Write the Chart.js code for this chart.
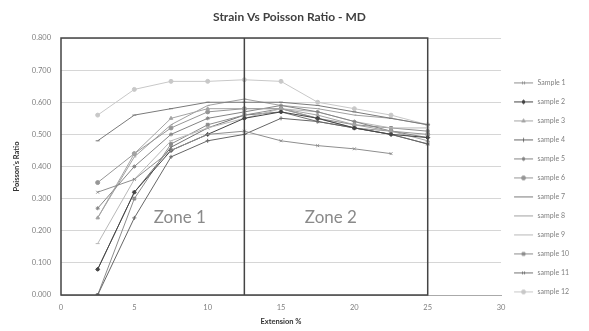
<!DOCTYPE html>
<html>
<head>
<meta charset="utf-8">
<script src="https://cdn.jsdelivr.net/npm/chart.js@4.4.1/dist/chart.umd.min.js"></script>
<style>
  html, body { margin: 0; padding: 0; background: #fff; }
</style>
</head>
<body>
<canvas id="chart" width="589" height="331"></canvas>
<script>
const extension = [2.5, 5, 7.5, 10, 12.5, 15, 17.5, 20, 22.5, 25];
const sampleNames = ["Sample 1", "sample 2", "sample 3", "sample 4", "sample 5", "sample 6",
  "sample 7", "sample 8", "sample 9", "sample 10", "sample 11", "sample 12"];
const sample1 = [0.32, 0.36, 0.45, 0.50, 0.51, 0.48, 0.465, 0.455, 0.44, null];
const sample2 = [0.08, 0.32, 0.45, 0.50, 0.55, 0.57, 0.55, 0.52, 0.50, 0.49];
const sample3 = [0.24, 0.44, 0.55, 0.58, 0.58, 0.58, 0.56, 0.53, 0.51, 0.48];
const sample4 = [0.00, 0.24, 0.43, 0.48, 0.50, 0.55, 0.54, 0.52, 0.50, 0.47];
const sample5 = [0.27, 0.40, 0.50, 0.55, 0.57, 0.59, 0.57, 0.54, 0.51, 0.49];
const sample6 = [0.35, 0.44, 0.52, 0.57, 0.58, 0.58, 0.55, 0.52, 0.51, 0.50];
const sample7 = [0.48, 0.56, 0.58, 0.60, 0.60, 0.60, 0.59, 0.57, 0.55, 0.53];
const sample8 = [0.24, 0.43, 0.53, 0.59, 0.61, 0.59, 0.58, 0.56, 0.55, 0.53];
const sample9 = [0.16, 0.36, 0.48, 0.52, 0.55, 0.58, 0.57, 0.54, 0.52, 0.52];
const sample10 = [0.00, 0.30, 0.47, 0.53, 0.56, 0.58, 0.55, 0.53, 0.52, 0.51];
const sample11 = [0.08, 0.32, 0.46, 0.52, 0.56, 0.57, 0.54, 0.52, 0.50, 0.47];
const sample12 = [0.56, 0.64, 0.665, 0.665, 0.67, 0.665, 0.60, 0.58, 0.56, 0.53];
const samples = [sample1, sample2, sample3, sample4, sample5, sample6,
  sample7, sample8, sample9, sample10, sample11, sample12];
const zoneNames = ["Zone 1", "Zone 2"];

const fontFamily = "Lato, 'Open Sans', sans-serif";
const colors = ["#8e8e8e", "#444444", "#a4a4a4", "#666666", "#848484", "#969696",
  "#7a7a7a", "#a0a0a0", "#b8b8b8", "#8c8c8c", "#727272", "#c8c8c8"];
const markers = ["crossRot", "rectRot", "triangle", "cross", "star", "circle",
  "line", "dash", "line", "rect", "crossRot", "circle"];

// small legend icon: a line with the marker in the middle
const makeIcon = (color, style) => {
  const c = document.createElement("canvas");
  c.width = 21;
  c.height = 7;
  const ctx = c.getContext("2d");
  ctx.strokeStyle = color;
  ctx.fillStyle = color;
  ctx.lineWidth = 1;
  ctx.beginPath();
  ctx.moveTo(1, 3.5);
  ctx.lineTo(20, 3.5);
  ctx.stroke();
  Chart.helpers.drawPoint(ctx, { pointStyle: style, radius: 2, rotation: 0, borderWidth: 1 }, 10.5, 3.5);
  return c;
};
const icons = colors.map((c, i) => makeIcon(c, markers[i]));

// zone box (0..25) with divider at 12.5, plus zone labels
const zonePlugin = {
  id: "zones",
  afterDatasetsDraw(chart, args, opts) {
    const { ctx, scales: { x, y } } = chart;
    ctx.save();
    ctx.strokeStyle = "#444";
    ctx.lineWidth = 1.5;
    ctx.strokeRect(x.getPixelForValue(0), y.getPixelForValue(0.8),
      x.getPixelForValue(25) - x.getPixelForValue(0), y.getPixelForValue(0) - y.getPixelForValue(0.8));
    ctx.beginPath();
    ctx.moveTo(x.getPixelForValue(12.5), y.getPixelForValue(0.8));
    ctx.lineTo(x.getPixelForValue(12.5), y.getPixelForValue(0));
    ctx.stroke();
    ctx.fillStyle = "#8a8a8a";
    ctx.font = "17px " + fontFamily;
    ctx.textAlign = "center";
    ctx.textBaseline = "middle";
    zoneNames.forEach((name, i) => {
      const pos = opts.positions[i];
      ctx.fillText(name, x.getPixelForValue(pos[0]), y.getPixelForValue(pos[1]));
    });
    ctx.restore();
  },
};

const datasets = samples.map((values, i) => ({
  label: sampleNames[i],
  data: extension.map((x, j) => ({ x, y: values[j] })).filter((p) => p.y !== null),
  borderColor: colors[i],
  backgroundColor: colors[i],
  borderWidth: 1,
  pointStyle: markers[i],
  pointRadius: 2,
  pointBorderWidth: 1,
  tension: 0,
}));

new Chart(document.getElementById("chart"), {
  type: "line",
  data: { datasets },
  options: {
    responsive: false,
    animation: false,
    layout: { padding: { right: 10 } },
    plugins: {
      title: {
        display: true,
        text: "Strain Vs Poisson Ratio - MD",
        color: "#404040",
        font: { family: fontFamily, size: 12, weight: "bold" },
        padding: { top: 10, bottom: 13.6 },
      },
      legend: {
        position: "right",
        align: "start",
        title: { display: true, text: " ", font: { size: 7 }, padding: { top: 59, bottom: 0 } },
        labels: {
          usePointStyle: true,
          pointStyleWidth: 21,
          boxHeight: 7,
          padding: 12,
          color: "#808080",
          font: { family: fontFamily, size: 7 },
          generateLabels(chart) {
            const items = Chart.defaults.plugins.legend.labels.generateLabels(chart);
            items.forEach((item) => { item.pointStyle = icons[item.datasetIndex]; });
            return items;
          },
        },
      },
      tooltip: { enabled: false },
      zones: { positions: [[8.1, 0.24], [18.4, 0.24]] },
    },
    scales: {
      x: {
        type: "linear",
        min: 0,
        max: 30,
        afterFit: (scale) => { scale.height = 36; },
        ticks: { stepSize: 5, padding: 8, color: "#808080", font: { family: fontFamily, size: 7.5 } },
        grid: { display: false, drawTicks: false },
        border: { display: true, color: "#aaa" },
        title: {
          display: true,
          text: "Extension %",
          color: "#333",
          font: { family: fontFamily, size: 7.5, weight: "bold" },
          padding: { top: 6, bottom: 4.5 },
        },
      },
      y: {
        min: 0,
        max: 0.8,
        afterFit: (scale) => { scale.width = 61; },
        ticks: {
          stepSize: 0.1,
          padding: 10,
          color: "#808080",
          font: { family: fontFamily, size: 7.5 },
          callback: (v) => v.toFixed(3),
        },
        grid: { color: "#d6d6d6", drawTicks: false },
        border: { display: false },
        title: {
          display: true,
          text: "Poisson's Ratio",
          color: "#333",
          font: { family: fontFamily, size: 7.5, weight: "bold" },
          padding: { top: 12.5, bottom: 0 },
        },
      },
    },
  },
  plugins: [zonePlugin],
});
</script>
</body>
</html>
